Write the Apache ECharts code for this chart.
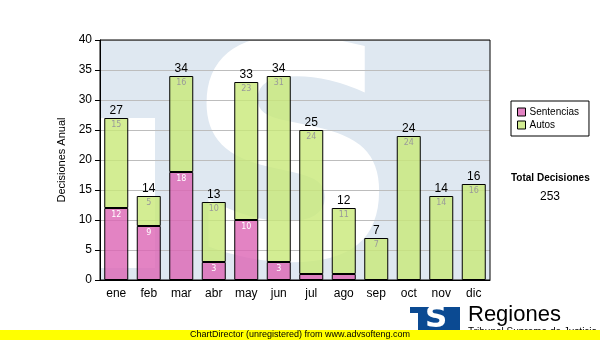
<!DOCTYPE html>
<html>
<head>
<meta charset="utf-8">
<script src="https://cdn.jsdelivr.net/npm/echarts@6/dist/echarts.min.js"></script>
<style>html,body{margin:0;padding:0;background:#fff}#c{width:600px;height:340px}</style>
</head>
<body>
<div id="c"></div>
<script>
var months = ['ene','feb','mar','abr','may','jun','jul','ago','sep','oct','nov','dic'];
var sentencias = [12, 9, 18, 3, 10, 3, 1, 1, 0, 0, 0, 0];
var autos = [15, 5, 16, 10, 23, 31, 24, 11, 7, 24, 14, 16];
var yTicks = {min: 0, max: 40, interval: 5};

var totals = months.map(function (m, i) { return sentencias[i] + autos[i]; });
var grandTotal = totals.reduce(function (a, b) { return a + b; }, 0);

var chart = echarts.init(document.getElementById('c'), null, {renderer: 'canvas'});
var FONT = 'Liberation Sans';
var option = {
  animation: false,
  backgroundColor: '#ffffff',
  grid: {left: 100, right: 110, top: 40, bottom: 60, show: true, borderColor: '#000', borderWidth: 1, backgroundColor: 'transparent', z: 1},
  legend: {
    orient: 'vertical', left: 511, top: 101,
    padding: [6, 10, 6, 6], itemGap: 3, itemWidth: 8, itemHeight: 8,
    borderColor: '#000', borderWidth: 1, borderRadius: 0,
    icon: 'rect',
    itemStyle: {borderColor: '#000', borderWidth: 1, opacity: 1},
    textStyle: {fontFamily: FONT, fontSize: 10, color: '#000', padding: [0, 0, 0, -1]},
    data: ['Sentencias', 'Autos']
  },
  xAxis: {
    type: 'category', data: months,
    axisLine: {lineStyle: {color: '#000', width: 1}},
    axisTick: {alignWithLabel: true, length: 5, lineStyle: {color: '#000'}},
    axisLabel: {fontFamily: FONT, fontSize: 12, color: '#000', margin: 8}
  },
  yAxis: {
    type: 'value', min: yTicks.min, max: yTicks.max, interval: yTicks.interval,
    name: 'Decisiones Anual', nameLocation: 'middle', nameGap: 17, nameRotate: 90,
    nameTextStyle: {fontFamily: FONT, fontSize: 11, color: '#000'},
    axisLine: {show: true, lineStyle: {color: '#000', width: 1}},
    axisTick: {show: true, length: 5, lineStyle: {color: '#000'}},
    axisLabel: {fontFamily: FONT, fontSize: 12, color: '#000', margin: 8},
    splitLine: {show: true, lineStyle: {color: '#bdbdbd', width: 1}}
  },
  graphic: [
    {type: 'rect', z: -10, silent: true, shape: {x: 100, y: 40, width: 390, height: 240}, style: {fill: '#dfe8f1'}},
    {type: 'rect', z: -9, silent: true, shape: {x: 100, y: 118, width: 55, height: 150}, style: {fill: '#ffffff'}},
    {type: 'text', z: -9, silent: true, left: 185, top: 30,
      style: {text: 'S', fontFamily: 'DejaVu Sans', fontWeight: 'bold', fontSize: 300, fill: '#ffffff'}},
    {type: 'text', left: 511, top: 173, style: {text: 'Total Decisiones', fontFamily: FONT, fontWeight: 'bold', fontSize: 10, fill: '#000'}},
    {type: 'text', left: 540, top: 191, style: {text: String(grandTotal), fontFamily: FONT, fontSize: 12, fill: '#000'}},
    {type: 'rect', z: 50, shape: {x: 410, y: 307, width: 50, height: 26}, style: {fill: '#0b4a92'}},
    {type: 'rect', z: 51, shape: {x: 410, y: 313, width: 8, height: 20}, style: {fill: '#ffffff'}},
    {type: 'text', z: 51, left: 425, top: 303, style: {text: 'S', fontFamily: 'DejaVu Sans', fontWeight: 'bold', fontSize: 31, fill: '#ffffff'}},
    {type: 'text', z: 51, left: 468, top: 304, style: {text: 'Regiones', fontFamily: FONT, fontSize: 22, fill: '#000'}},
    {type: 'text', z: 51, left: 468, top: 327, style: {text: 'Tribunal Supremo de Justicia', fontFamily: FONT, fontSize: 10, fill: '#000'}},
    {type: 'rect', z: 60, shape: {x: 0, y: 330, width: 600, height: 10}, style: {fill: '#ffff00'}},
    {type: 'text', z: 61, left: 'center', top: 330, style: {text: 'ChartDirector (unregistered) from www.advsofteng.com', fontFamily: FONT, fontSize: 9, fill: '#000'}}
  ],
  series: [
    {
      name: 'Sentencias', type: 'bar', stack: 'd', barWidth: 24,
      data: sentencias.map(function (v) { return v === 0 ? '-' : v; }),
      itemStyle: {color: 'rgba(220,100,180,0.8)', borderColor: '#000', borderWidth: 1},
      label: {show: true, position: 'insideTop', distance: 3, fontFamily: 'DejaVu Sans', fontSize: 8, color: '#fff',
        formatter: function (p) { return p.value >= 2 ? String(p.value) : ''; }}
    },
    {
      name: 'Autos', type: 'bar', stack: 'd', barWidth: 24,
      data: autos,
      itemStyle: {color: 'rgba(200,232,120,0.8)', borderColor: '#000', borderWidth: 1},
      label: {show: true, position: 'insideTop', distance: 3, fontFamily: 'DejaVu Sans', fontSize: 8, color: '#9a9a9a'}
    },
    {
      name: 'Total', type: 'bar', barWidth: 24, barGap: '-100%',
      data: totals,
      itemStyle: {color: 'rgba(0,0,0,0)'},
      label: {show: true, position: 'top', distance: 1, fontFamily: FONT, fontSize: 12, color: '#000'},
      silent: true
    }
  ]
};
chart.setOption(option);
</script>
</body>
</html>
